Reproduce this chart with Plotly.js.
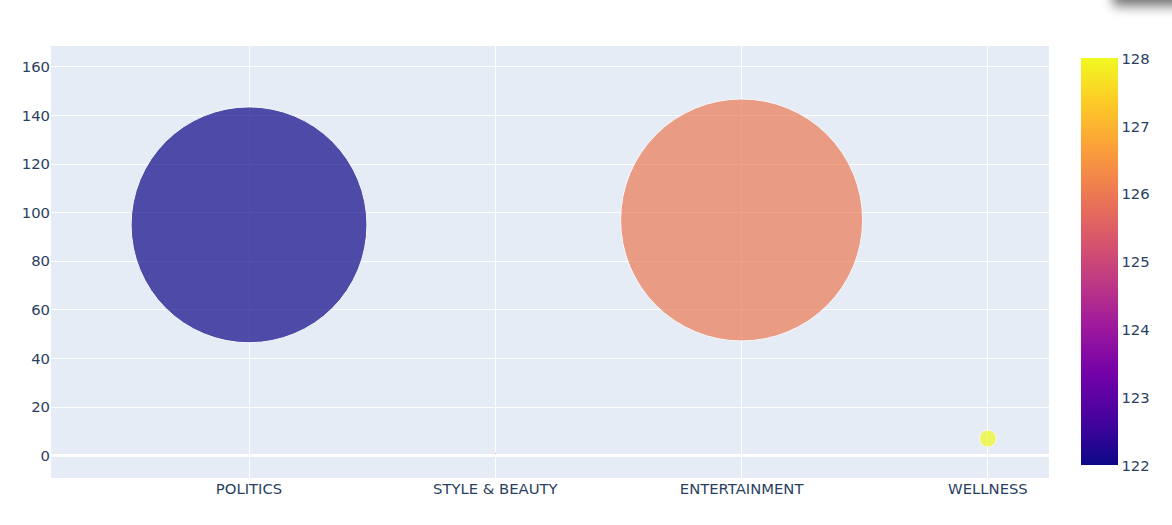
<!DOCTYPE html>
<html>
<head>
<meta charset="utf-8">
<script src="https://cdn.plot.ly/plotly-3.0.1.min.js"></script>
<style>
  html, body { margin: 0; padding: 0; background: #fff; overflow: hidden; }
  #chart { width: 1172px; height: 525px; }
  #shade {
    position: absolute; top: -24px; left: 1116px; width: 90px; height: 24px;
    background: #888; box-shadow: 0 3px 12px 3px rgba(0,0,0,0.55); z-index: 10;
  }
</style>
</head>
<body>
<div id="shade"></div>
<div id="chart"></div>
<script>
const categories = ['POLITICS', 'STYLE & BEAUTY', 'ENTERTAINMENT', 'WELLNESS'];
const yValues = [95, 1, 97, 7];
const colorValues = [122, 125, 126, 128];
const sizeValues = [950, 0.07, 1000, 5];

const plasma = ['#0d0887', '#46039f', '#7201a8', '#9c179e', '#bd3786',
                '#d8576b', '#ed7953', '#fb9f3a', '#fdca26', '#f0f921'];
const plasmaScale = plasma.map((c, i) => [i / (plasma.length - 1), c]);

const sizeMax = 242;
const sizeref = 2 * Math.max(...sizeValues) / (sizeMax * sizeMax);

const trace = {
  type: 'scatter',
  mode: 'markers',
  x: categories,
  y: yValues,
  marker: {
    size: sizeValues,
    sizemode: 'area',
    sizeref: sizeref,
    color: colorValues,
    colorscale: plasmaScale,
    cmin: 122,
    cmax: 128,
    opacity: 0.7,
    line: { color: '#ffffff', width: 1 },
    showscale: true,
    colorbar: {
      thickness: 37,
      thicknessmode: 'pixels',
      len: 407,
      lenmode: 'pixels',
      y: 0.5,
      yanchor: 'middle',
      x: 1.02,
      xanchor: 'left',
      xpad: 12,
      ypad: 0,
      outlinewidth: 0,
      tickvals: [122, 123, 124, 125, 126, 127, 128],
      ticks: '',
      tickfont: { size: 14.8 }
    }
  },
  showlegend: false
};

const layout = {
  width: 1172,
  height: 525,
  margin: { l: 51, r: 123, t: 46, b: 47 },
  paper_bgcolor: '#ffffff',
  plot_bgcolor: '#E5ECF6',
  font: { family: 'DejaVu Sans, Verdana, sans-serif', size: 14.8, color: '#2a3f5f' },
  xaxis: {
    type: 'category',
    range: [-0.804, 3.248],
    gridcolor: '#ffffff',
    gridwidth: 1.2,
    showline: false,
    zeroline: false,
    ticks: '',
    tickfont: { size: 14.8 }
  },
  yaxis: {
    range: [-9.2, 168.6],
    dtick: 20,
    gridcolor: '#ffffff',
    gridwidth: 1.2,
    zeroline: true,
    zerolinecolor: '#ffffff',
    zerolinewidth: 2.5,
    showline: false,
    ticks: '',
    tickfont: { size: 14.8 }
  }
};

Plotly.newPlot('chart', [trace], layout, { displayModeBar: false, responsive: false });
</script>
</body>
</html>
